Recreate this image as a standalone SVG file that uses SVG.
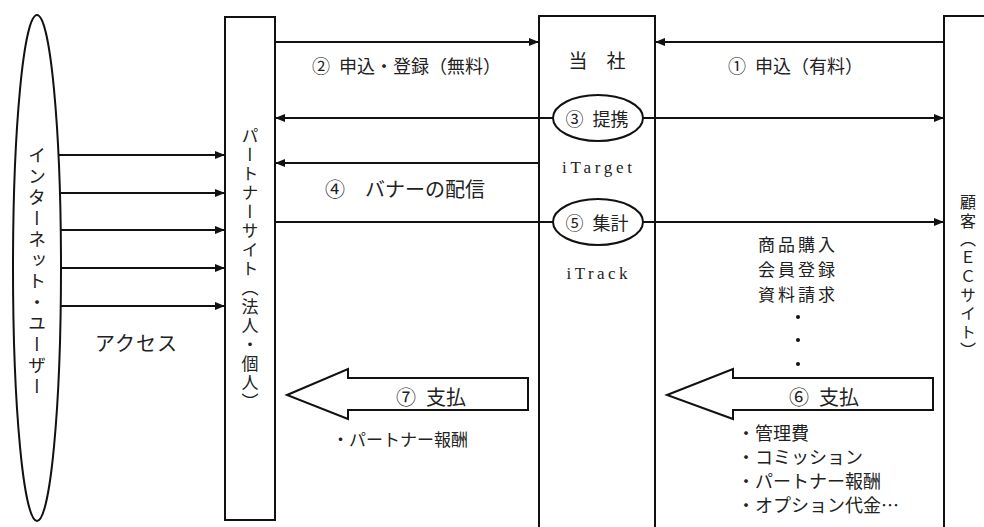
<svg xmlns="http://www.w3.org/2000/svg" width="984" height="527" viewBox="0 0 984 527">
<defs>
<style>
.shape{fill:#fff;stroke:#111;stroke-width:2}
.ln{fill:none;stroke:#111;stroke-width:2}
.t{font-family:"Liberation Serif","Noto Sans CJK JP",serif;fill:#222;dominant-baseline:central}
.j{font-family:"Noto Sans CJK JP",sans-serif;fill:#222;dominant-baseline:central}
.v{writing-mode:vertical-rl;font-family:"Noto Sans CJK JP",sans-serif;fill:#222}
.m{text-anchor:middle}
</style>
<marker id="ah" markerUnits="userSpaceOnUse" markerWidth="10" markerHeight="8" refX="10" refY="4" orient="auto">
<path d="M0,0 L10,4 L0,8 z" fill="#111"/>
</marker>
</defs>
<rect width="984" height="527" fill="#fff"/>

<g id="internet-users">
<ellipse class="shape" cx="37" cy="268" rx="24" ry="253"/>
<text class="v" x="37" y="146" font-size="18" letter-spacing="3">インターネット・ユーザー</text>
</g>

<g id="partner-site">
<rect class="shape" x="225" y="17" width="50" height="503"/>
<text class="v" x="250" y="127" font-size="17" letter-spacing="2">パートナーサイト（法人・個人）</text>
</g>

<g id="company">
<rect class="shape" x="539" y="16" width="116" height="530"/>
<text class="j m" x="597" y="59" font-size="19">当　社</text>
<text class="t m" x="597" y="167" font-size="17" textLength="70" lengthAdjust="spacing">iTarget</text>
<text class="t m" x="597" y="273" font-size="17" textLength="61" lengthAdjust="spacing">iTrack</text>
</g>

<g id="customer">
<rect class="shape" x="944" y="16" width="60" height="530"/>
<text class="v" x="968" y="194" font-size="16" letter-spacing="2.5">顧客（ＥＣサイト）</text>
</g>

<g id="alliance">
<ellipse class="shape" cx="598" cy="118" rx="45" ry="23"/>
<text class="j m" x="597" y="118" font-size="18">③&#8194;提携</text>
</g>

<g id="aggregate">
<ellipse class="shape" cx="598" cy="222" rx="45" ry="23"/>
<text class="j m" x="597" y="222" font-size="18">⑤&#8194;集計</text>
</g>

<g id="connectors">
<path class="ln" d="M275,42 H539" marker-end="url(#ah)"/>
<path class="ln" d="M944,42 H655" marker-end="url(#ah)"/>
<path class="ln" d="M553,118 H275" marker-end="url(#ah)"/>
<path class="ln" d="M643,118 H944" marker-end="url(#ah)"/>
<path class="ln" d="M539,163 H275" marker-end="url(#ah)"/>
<path class="ln" d="M275,222 H553"/>
<path class="ln" d="M643,222 H944" marker-end="url(#ah)"/>
<path class="ln" d="M59,155 H225" marker-end="url(#ah)"/>
<path class="ln" d="M60,193 H225" marker-end="url(#ah)"/>
<path class="ln" d="M61,230 H225" marker-end="url(#ah)"/>
<path class="ln" d="M61,268 H225" marker-end="url(#ah)"/>
<path class="ln" d="M61,306 H225" marker-end="url(#ah)"/>
<polygon class="shape" points="287,395 348,369 348,378 528,378 528,410 348,410 348,419"/>
<polygon class="shape" points="667,395 733,369 733,378 933,378 933,410 733,410 733,419"/>
</g>

<g id="labels">
<text class="j" x="312" y="65" font-size="18">②&#8194;申込・登録（無料）</text>
<text class="j" x="728" y="65" font-size="18">①&#8194;申込（有料）</text>
<text class="j" x="325" y="188" font-size="20">④　バナーの配信</text>
<text class="j" x="95" y="342" font-size="20" letter-spacing="1">アクセス</text>
<text class="j" font-size="17" letter-spacing="3"><tspan x="758" y="243">商品購入</tspan><tspan x="758" y="268">会員登録</tspan><tspan x="758" y="293">資料請求</tspan></text>
<circle cx="798" cy="317" r="2" fill="#111"/>
<circle cx="798" cy="340" r="2" fill="#111"/>
<circle cx="798" cy="364" r="2" fill="#111"/>
<text class="j" x="396" y="396" font-size="20">⑦&#8194;支払</text>
<text class="j" x="789" y="396" font-size="20">⑥&#8194;支払</text>
<text class="j" x="332" y="438" font-size="17">・パートナー報酬</text>
<text class="j" font-size="18"><tspan x="737" y="432">・管理費</tspan><tspan x="737" y="456">・コミッション</tspan><tspan x="737" y="480">・パートナー報酬</tspan><tspan x="737" y="504">・オプション代金…</tspan></text>
</g>
</svg>
